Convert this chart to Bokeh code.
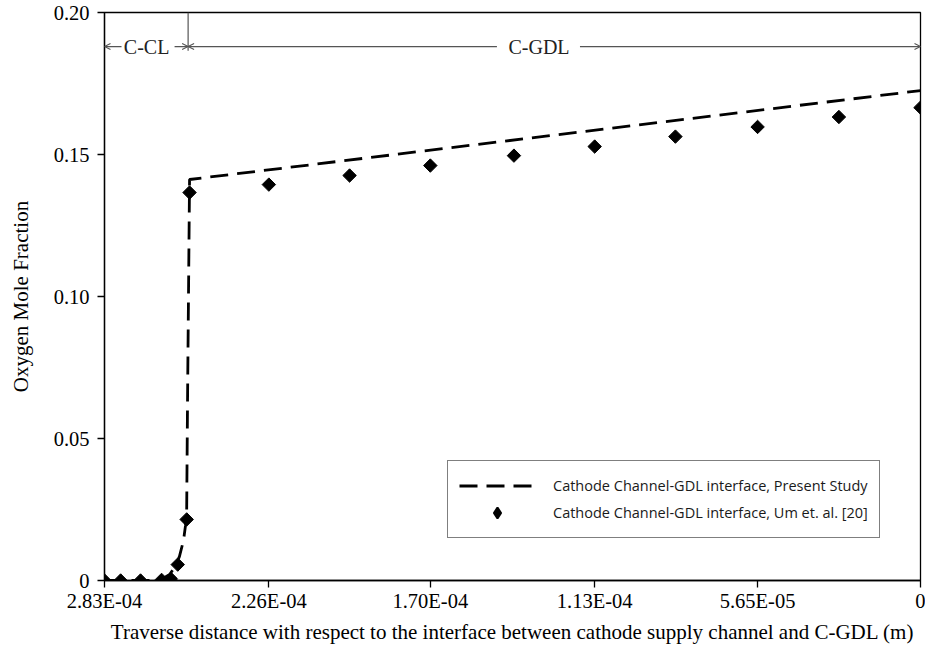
import math
from bokeh.plotting import figure
from bokeh.models import (Range1d, FixedTicker, Legend, LegendItem, Arrow, OpenHead,
                          Label)
from bokeh.embed import file_html
from bokeh.resources import INLINE

# ---- data ----
x_tick_values = [2.83e-4, 2.26e-4, 1.70e-4, 1.13e-4, 5.65e-5, 0.0]
x_tick_labels = ["2.83E-04", "2.26E-04", "1.70E-04", "1.13E-04", "5.65E-05", "0"]
y_tick_values = [0.0, 0.05, 0.10, 0.15, 0.20]
y_tick_labels = ["0", "0.05", "0.10", "0.15", "0.20"]

# Present study (dashed line)
study_x = [2.83e-4, 2.70e-4, 2.639e-4, 2.604e-4, 2.583e-4, 2.570e-4, 2.556e-4,
           2.549e-4, 2.545e-4, 2.542e-4, 2.535e-4, 0.0]
study_y = [0.0, 0.0, 0.0, 0.0021, 0.0053, 0.0085, 0.0141,
           0.0194, 0.0246, 0.0634, 0.1412, 0.1725]

# Um et al. [20] (diamonds)
um_x = [2.83e-4, 2.774e-4, 2.705e-4, 2.632e-4, 2.600e-4, 2.576e-4, 2.545e-4, 2.535e-4,
        2.26e-4, 1.98e-4, 1.70e-4, 1.41e-4, 1.13e-4, 8.5e-5, 5.65e-5, 2.83e-5, 0.0]
um_y = [0.0, 0.0, 0.0, 0.0002, 0.0006, 0.0056, 0.0215, 0.1366,
        0.1394, 0.1426, 0.1461, 0.1496, 0.1528, 0.1563, 0.1597, 0.1632, 0.1665]

# region boundaries (m)
domain_start = 2.83e-4
interface_x = 2.54e-4
domain_end = 0.0

SERIF = "Liberation Serif"

p = figure(width=925, height=646, output_backend="svg", toolbar_location=None,
           x_range=Range1d(2.83e-4, 0.0), y_range=Range1d(0.0, 0.20),
           min_border_left=104, min_border_right=5, min_border_top=12,
           min_border_bottom=66)
p.background_fill_color = "white"
p.border_fill_color = "white"
p.outline_line_color = "black"
p.outline_line_width = 1.3
p.xgrid.visible = False
p.ygrid.visible = False

# axes
for ax in (p.xaxis[0], p.yaxis[0]):
    ax.axis_line_color = "black"
    ax.axis_line_width = 1.3
    ax.major_tick_line_color = "black"
    ax.major_tick_line_width = 1.3
    ax.minor_tick_line_color = None
    ax.major_tick_in = 0
    ax.major_tick_out = 7
    ax.major_label_text_font = SERIF
    ax.major_label_text_font_size = "20.5px"
    ax.major_label_text_color = "black"
    ax.axis_label_text_font = SERIF
    ax.axis_label_text_font_size = "21px"
    ax.axis_label_text_font_style = "normal"
    ax.axis_label_text_color = "black"

p.xaxis.ticker = FixedTicker(ticks=x_tick_values)
p.xaxis.major_label_overrides = {v: l for v, l in zip(x_tick_values, x_tick_labels)}
p.yaxis.ticker = FixedTicker(ticks=y_tick_values)
p.yaxis.major_label_overrides = {v: l for v, l in zip(y_tick_values, y_tick_labels)}
p.xaxis.axis_label = "Traverse distance with respect to the interface between cathode supply channel and C-GDL (m)"
p.yaxis.axis_label = "Oxygen Mole Fraction"
p.xaxis.major_label_standoff = 2
p.xaxis.axis_label_standoff = 5
p.yaxis.major_label_standoff = 8
p.yaxis.axis_label_standoff = 18

# series
line_r = p.line(study_x, study_y, line_color="black", line_width=2.8, line_dash="18 9")
pts_r = p.scatter(um_x, um_y, marker="square", angle=math.pi / 4, size=9.5,
                  fill_color="black", line_color="black")
# legend proxy glyph for the diamond symbol (placed outside the visible range)
pts_proxy = p.scatter([1.0], [-1.0], marker="diamond", size=14, line_width=2,
                      fill_color="black", line_color="black")

# region annotations at top
ann_y = 0.188
ann_color = "#555555"
p.segment(x0=[interface_x], y0=[0.20], x1=[interface_x], y1=[0.1865],
          line_color=ann_color, line_width=1.2)

def arrow(x0, x1):
    p.add_layout(Arrow(x_start=x0, y_start=ann_y, x_end=x1, y_end=ann_y,
                       line_color=ann_color, line_width=1.1,
                       end=OpenHead(size=6, line_color=ann_color, line_width=1.1)))

arrow(2.771e-4, domain_start)
arrow(2.587e-4, interface_x)
arrow(1.469e-4, interface_x)
arrow(1.181e-4, domain_end)

p.add_layout(Label(x=2.684e-4, y=ann_y, text="C-CL", text_font=SERIF,
                   text_font_size="20px", text_align="center", text_baseline="middle",
                   text_color="#222222"))
p.add_layout(Label(x=1.323e-4, y=ann_y, text="C-GDL", text_font=SERIF,
                   text_font_size="20px", text_align="center", text_baseline="middle",
                   text_color="#222222"))

# legend
legend = Legend(items=[
    LegendItem(label="Cathode Channel-GDL interface, Present Study", renderers=[line_r]),
    LegendItem(label="Cathode Channel-GDL interface, Um et. al. [20]", renderers=[pts_proxy]),
], location=(343, 42), orientation="vertical")
legend.border_line_color = "black"
legend.border_line_width = 1.5
legend.background_fill_color = "white"
legend.background_fill_alpha = 1.0
legend.label_text_font = "Open Sans"
legend.label_text_font_size = "14.5px"
legend.label_text_color = "#1a1a1a"
legend.padding = 11
legend.margin = 0
legend.spacing = 0
legend.glyph_width = 76
legend.glyph_height = 27
legend.label_height = 27
legend.label_standoff = 18
legend.label_width = 313
p.add_layout(legend)

open("out.html", "w").write(file_html(p, INLINE))
